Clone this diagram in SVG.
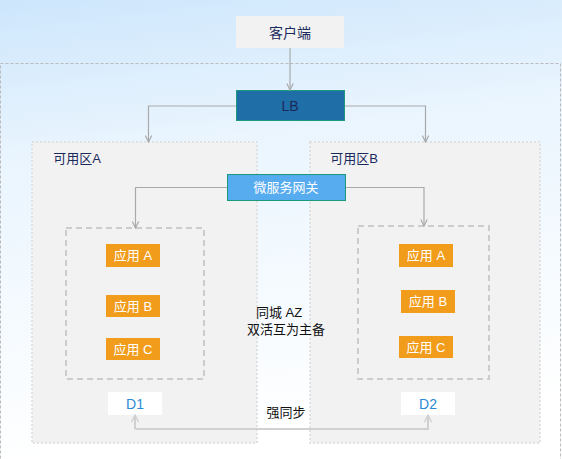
<svg xmlns="http://www.w3.org/2000/svg" width="562" height="459" viewBox="0 0 562 459">
<defs>
<linearGradient id="bg" x1="0" y1="0" x2="0.15" y2="1">
<stop offset="0" stop-color="#cde6fc"/>
<stop offset="0.35" stop-color="#eaf5fe"/>
<stop offset="1" stop-color="#ffffff"/>
</linearGradient>
<marker id="arr" viewBox="0 0 10 10" refX="9" refY="5" markerWidth="8" markerHeight="8" markerUnits="userSpaceOnUse" orient="auto">
<path d="M1,1 L9,5 L1,9" fill="none" stroke="#aaaaaa" stroke-width="1.5"/>
</marker>
<marker id="arr2" viewBox="0 0 10 10" refX="9" refY="5" markerWidth="9" markerHeight="9" markerUnits="userSpaceOnUse" orient="auto">
<path d="M1,1 L9,5 L1,9" fill="none" stroke="#d0d0d0" stroke-width="1.5"/>
</marker>
</defs>
<style>
text{font-family:"Liberation Sans","Noto Sans CJK SC",sans-serif;dominant-baseline:central;text-anchor:middle}
.navy{fill:#1b2a5c;font-size:13px}
.zone{fill:#f2f2f2;stroke:#dcdcdc;stroke-width:1.5;stroke-dasharray:2,2}
.inner{fill:none;stroke:#cccccc;stroke-width:2;stroke-dasharray:6,4}
.app rect{fill:#f19c1b}
.app text{fill:#ffffff;font-size:13px}
.db rect{fill:#ffffff}
.db text{fill:#2a8bd4;font-size:14px}
.conn{fill:none;stroke:#aaaaaa;stroke-width:1.2}
.lbl{fill:#111111;font-size:13px}
</style>
<rect x="0" y="0" width="562" height="459" fill="url(#bg)"/>
<rect x="0.5" y="63.5" width="560" height="410" fill="none" stroke="#bbbbbb" stroke-width="1" stroke-dasharray="3,2"/>

<g id="zoneA"><rect class="zone" x="32" y="142" width="225" height="301"/><text class="navy" x="77" y="158">可用区A</text></g>
<g id="zoneB"><rect class="zone" x="310" y="142" width="230" height="301"/><text class="navy" x="354" y="158">可用区B</text></g>

<g id="groupA"><rect class="inner" x="66" y="228" width="138" height="151"/></g>
<g id="groupB"><rect class="inner" x="358" y="226" width="131" height="153"/></g>

<g id="client"><rect x="236" y="16" width="108" height="32" fill="#f2f2f2"/><text class="navy" x="290" y="33" style="font-size:14px">客户端</text></g>
<g id="lb"><rect x="236.5" y="90.5" width="108" height="30" fill="#1f6ea8" stroke="#1a9a7a" stroke-width="1"/><text class="navy" x="290" y="106" style="font-size:14px">LB</text></g>
<g id="gateway"><rect x="227.5" y="174.5" width="118" height="26" fill="#57abef" stroke="#1a9a7a" stroke-width="1"/><text x="286" y="187.5" fill="#ffffff" style="font-size:13px">微服务网关</text></g>

<g id="appA1" class="app"><rect x="106" y="244" width="54" height="23"/><text x="133" y="255.5">应用 A</text></g>
<g id="appB1" class="app"><rect x="106" y="295" width="54" height="22"/><text x="133" y="306">应用 B</text></g>
<g id="appC1" class="app"><rect x="106" y="338" width="54" height="22"/><text x="133" y="349">应用 C</text></g>
<g id="appA2" class="app"><rect x="399" y="244" width="54" height="23"/><text x="426" y="255.5">应用 A</text></g>
<g id="appB2" class="app"><rect x="401" y="290" width="54" height="23"/><text x="428" y="301.5">应用 B</text></g>
<g id="appC2" class="app"><rect x="399" y="336" width="54" height="22"/><text x="426" y="347">应用 C</text></g>

<g id="d1" class="db"><rect x="108" y="392" width="54" height="23"/><text x="135" y="403.5">D1</text></g>
<g id="d2" class="db"><rect x="401" y="392" width="54" height="23"/><text x="428" y="403.5">D2</text></g>

<g id="labels">
<text class="lbl" x="279" y="312.5">同城 AZ</text>
<text class="lbl" x="286" y="329">双活互为主备</text>
<text class="lbl" x="286" y="412">强同步</text>
</g>

<g id="connectors">
<path class="conn" d="M290,48 V90" marker-end="url(#arr)"/>
<path class="conn" d="M236,106 H148.5 V142" marker-end="url(#arr)"/>
<path class="conn" d="M345,106 H425.5 V142" marker-end="url(#arr)"/>
<path class="conn" d="M227,187.5 H135.5 V228" marker-end="url(#arr)"/>
<path class="conn" d="M346,187.5 H424 V226" marker-end="url(#arr)"/>
<path d="M135,429 V415" fill="none" stroke="#d0d0d0" stroke-width="2" marker-end="url(#arr2)"/>
<path d="M135,429 H428 V415" fill="none" stroke="#d0d0d0" stroke-width="2" marker-end="url(#arr2)"/>
</g>
</svg>
